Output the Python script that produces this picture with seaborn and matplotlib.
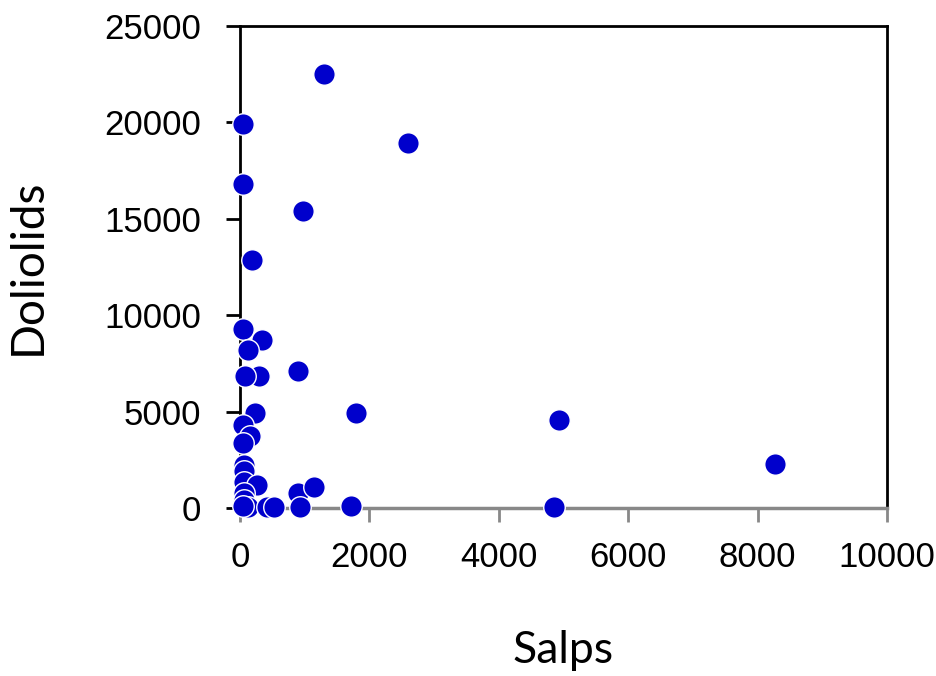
import matplotlib
matplotlib.use("Agg")
import matplotlib.pyplot as plt
import seaborn as sns
import pandas as pd

salps = [1300, 50, 2600, 50, 980, 180, 50, 340, 130, 290, 80, 900,
         230, 1800, 4930, 8270, 40, 150, 50, 60, 60, 60, 260, 60, 60,
         900, 1140, 120, 40, 420, 520, 930, 1710, 4850]
doliolids = [22500, 19900, 18950, 16800, 15400, 12850, 9300, 8700, 8200, 6850, 6850, 7100,
             4950, 4950, 4550, 2300, 4300, 3750, 3350, 2250, 1900, 1350, 1200, 800, 400,
             800, 1100, 50, 100, 50, 50, 50, 100, 50]

df = pd.DataFrame({"Salps": salps, "Doliolids": doliolids})

sns.set_theme(style="white")
plt.rcParams['font.family'] = ['Liberation Sans', 'DejaVu Sans']
plt.rcParams['text.color'] = 'black'
plt.rcParams['axes.labelcolor'] = 'black'
plt.rcParams['xtick.labelcolor'] = 'black'
plt.rcParams['ytick.labelcolor'] = 'black'

fig = plt.figure(figsize=(9.36, 6.76), dpi=100)
ax = fig.add_axes([0.2564, 0.2485, 0.6912, 0.713])

sns.scatterplot(data=df, x="Salps", y="Doliolids", ax=ax, color="#0000CC",
                s=240, edgecolor="white", linewidth=1.0, zorder=3, clip_on=False)

ax.set_xlim(0, 10000)
ax.set_ylim(0, 25000)
ax.set_xticks(range(0, 10001, 2000))
ax.set_yticks(range(0, 25001, 5000))

for side in ["left", "top", "right"]:
    ax.spines[side].set_color("black")
    ax.spines[side].set_linewidth(2)
ax.spines["bottom"].set_color("#888888")
ax.spines["bottom"].set_linewidth(2.5)

ax.tick_params(axis="y", direction="out", length=10, width=2, color="black",
               labelsize=25, pad=18, left=True, labelcolor="black")
ax.tick_params(axis="x", direction="out", length=10, width=2, color="#888888",
               labelsize=25, pad=14, bottom=True, labelcolor="black")

ax.set_xlabel("Salps", fontsize=32, family=["Lato", "DejaVu Sans"], labelpad=40,
              color="black")
ax.set_ylabel("Doliolids", fontsize=33, family=["Lato", "DejaVu Sans"], labelpad=40,
              color="black")

fig.savefig("out.png", dpi=100)
